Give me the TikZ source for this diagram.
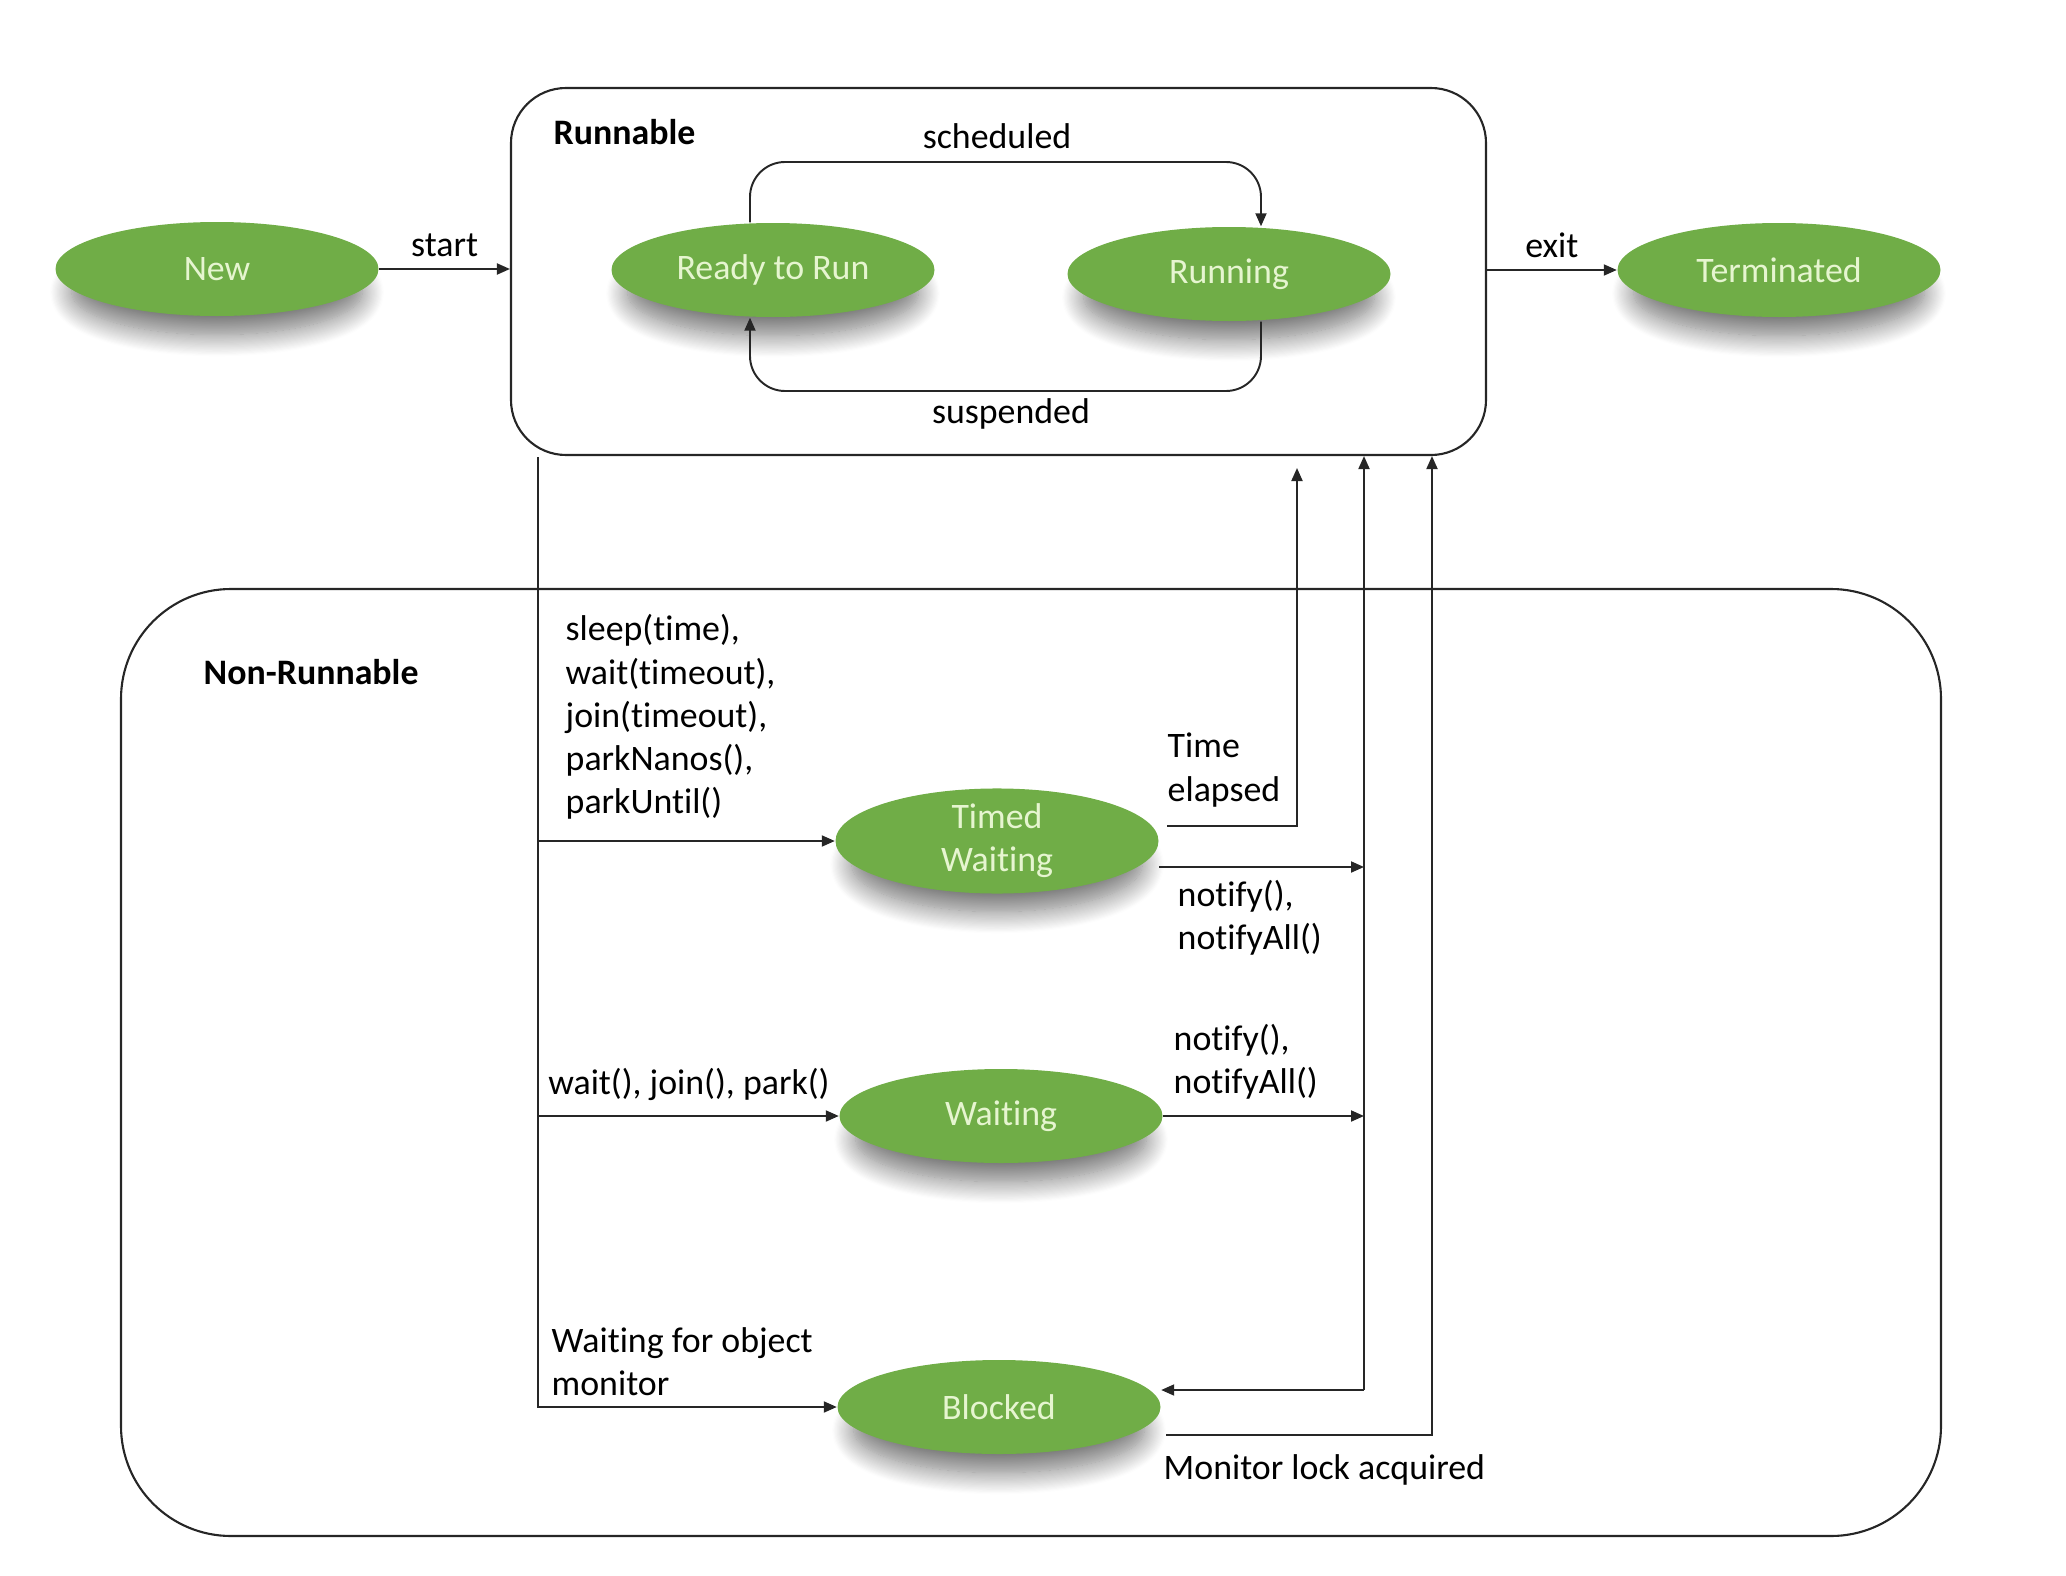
\documentclass[tikz,border=0pt]{standalone}
\usepackage{fontspec}
\setmainfont{Carlito}[RawFeature=-liga]
\usetikzlibrary{shapes.geometric,arrows.meta,shadows.blur}
\definecolor{ThreadGreen}{HTML}{70AD47}
\definecolor{ThreadLabel}{HTML}{E6F5D0}
\definecolor{ThreadLine}{HTML}{262626}

\begin{document}
\begin{tikzpicture}[x=1cm,y=-1cm,
    font=\fontsize{10.2}{12.3}\selectfont,
    state/.style={ellipse,fill=ThreadGreen,text=ThreadLabel,minimum width=3.23cm,minimum height=0.94cm,
      inner sep=0pt,align=center,
      blur shadow={shadow xshift=0mm,shadow yshift=-2.6mm,shadow scale=0.9,shadow opacity=55,shadow blur radius=2.4mm,shadow blur steps=20}},
    group/.style={draw=ThreadLine,line width=0.6pt,inner sep=0pt},
    wire/.style={draw=ThreadLine,line width=0.55pt},
    flow/.style={wire,-{Triangle[length=1.3mm,width=1.1mm]}},
    tag/.style={inner sep=0pt,align=left,anchor=west}]
  \useasboundingbox (0,0) rectangle (20.66,15.76);

  % the two groups
  \node[group,rounded corners=0.55cm,minimum width=9.75cm,minimum height=3.67cm] (runnable) at (9.985,2.715) {};
  \node[group,rounded corners=1.1cm,minimum width=18.2cm,minimum height=9.47cm] (nonrunnable) at (10.31,10.625) {};
  \node[tag,font=\fontsize{10.2}{12.3}\selectfont\bfseries] (runlbl) at (5.53,1.32) {Runnable};
  \node[tag,font=\fontsize{10.2}{12.3}\selectfont\bfseries] (nonrunlbl) at (2.03,6.72) {Non-Runnable};

  % states
  \node[state] (new) at (2.17,2.69) {New};
  \node[state] (ready) at (7.73,2.70) {Ready to Run};
  \node[state] (running) at (12.29,2.74) {Running};
  \node[state] (terminated) at (17.79,2.70) {Terminated};
  \node[state] (timed) at (9.97,8.41) {Timed\\Waiting};
  \node[state] (waiting) at (10.01,11.16) {Waiting};
  \node[state] (blocked) at (9.99,14.07) {Blocked};

  % top row
  \draw[flow] (new) -- node[above] (startlbl) {start} (runnable.west |- new);
  \draw[flow] (runnable.east |- terminated) -- node[above] (exitlbl) {exit} (terminated);
  \coordinate (schedtop) at (10,1.62);
  \coordinate (suspbot) at (10,3.91);
  \draw[flow,rounded corners=0.35cm] ([xshift=-2.3mm]ready.north) |- (schedtop) -| ([xshift=3.2mm]running.north);
  \draw[flow,rounded corners=0.35cm] ([xshift=3.2mm]running.south) |- (suspbot) -| ([xshift=-2.3mm]ready.south);
  \node (schedlbl) at (9.97,1.36) {scheduled};
  \node (susplbl) at (10.11,4.14) {suspended};

  % into the waiting states
  \coordinate (trunk) at (5.38,4.57);
  \draw[flow] (trunk) |- (blocked);
  \draw[flow] (trunk |- timed) -- (timed);
  \draw[flow] (trunk |- waiting) -- (waiting);
  \node[tag] (timedin) at (5.65,7.17) {sleep(time),\\wait(timeout),\\join(timeout),\\parkNanos(),\\parkUntil()};
  \node (waitin) at (6.89,10.84) {wait(), join(), park()};
  \node[tag] (blockin) at (5.51,13.615) {Waiting for object\\monitor};

  % back to runnable
  \coordinate (elapsed) at (12.97,4.68);
  \draw[flow] ([xshift=0.8mm,yshift=1.5mm]timed.east) -| (elapsed);
  \node[tag] (elapsedlbl) at (11.67,7.70) {Time\\elapsed};

  \coordinate (notifyup) at (13.64,13.90);
  \coordinate (timedout) at ([yshift=-2.6mm]timed.east);
  \draw[flow] (timedout) -- (timedout -| notifyup);
  \draw[flow] (waiting) -- (waiting -| notifyup);
  \draw[flow] (notifyup) -- (notifyup |- runnable.south);
  \draw[flow] (notifyup) -- (notifyup -| blocked.east);
  \node[tag] (timednote) at (11.77,9.175) {notify(),\\notifyAll()};
  \node[tag] (waitnote) at (11.73,10.615) {notify(),\\notifyAll()};

  \coordinate (lockx) at (14.32,0);
  \coordinate (blockedout) at ([xshift=0.5mm,yshift=-2.8mm]blocked.east);
  \draw[flow] (blockedout) -| (lockx |- runnable.south);
  \node[tag] (locklbl) at (11.63,14.70) {Monitor lock acquired};
\end{tikzpicture}
\end{document}
